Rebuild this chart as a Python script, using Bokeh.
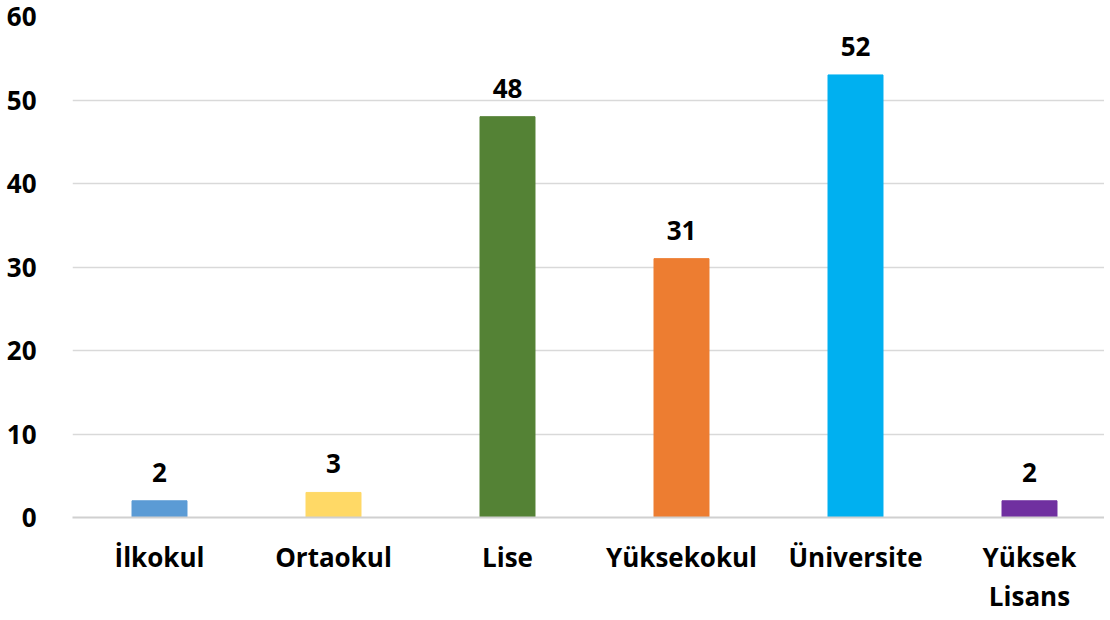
from bokeh.plotting import figure
from bokeh.models import ColumnDataSource, Range1d, FixedTicker
from bokeh.core.properties import value
from bokeh.embed import file_html
from bokeh.resources import INLINE

categories = ["İlkokul", "Ortaokul", "Lise", "Yüksekokul", "Üniversite", "Yüksek\nLisans"]
counts = [2, 3, 48, 31, 53, 2]
count_labels = ["2", "3", "48", "31", "52", "2"]
colors = ["#5B9BD5", "#FFD966", "#548235", "#ED7D31", "#00B0F0", "#7030A0"]
y_ticks = [0, 10, 20, 30, 40, 50, 60]

xpos = [i + 0.5 for i in range(len(categories))]
src = ColumnDataSource(dict(x=xpos, top=counts, lab=count_labels, color=colors))

FONT = "Open Sans"
W, H = 1104, 618
p = figure(width=W, height=H, output_backend="svg", toolbar_location=None,
           x_range=Range1d(0, (W - 72) / 174.0), y_range=Range1d(0, 60),
           min_border_left=72, min_border_right=0, min_border_top=16, min_border_bottom=101)
p.outline_line_color = None
p.background_fill_color = "white"
p.border_fill_color = "white"

p.vbar(x="x", top="top", width=0.316, color="color", source=src)
p.text(x="x", y="top", text="lab", source=src, text_align="center", text_baseline="bottom",
       y_offset=-19, text_font=value(FONT), text_font_style="bold", text_font_size="26px",
       text_color="#000000")

p.xaxis.ticker = FixedTicker(ticks=xpos)
p.xaxis.major_label_overrides = {x: c for x, c in zip(xpos, categories)}
p.yaxis.ticker = FixedTicker(ticks=y_ticks)

for ax in (p.xaxis[0], p.yaxis[0]):
    ax.major_label_text_font = FONT
    ax.major_label_text_font_style = "bold"
    ax.major_label_text_font_size = "26px"
    ax.major_label_text_color = "#000000"
    ax.major_tick_line_color = None
    ax.minor_tick_line_color = None

p.xaxis.major_label_text_line_height = 1.1
p.xaxis.axis_line_color = "#d0d0d0"
p.xaxis.axis_line_width = 2
p.yaxis.axis_line_color = None
p.yaxis.major_label_standoff = 30
p.xaxis.major_label_standoff = 15

p.xgrid.grid_line_color = None
p.ygrid.grid_line_color = "#d9d9d9"
p.ygrid.grid_line_width = 1.5

open("out.html", "w").write(file_html(p, INLINE))
